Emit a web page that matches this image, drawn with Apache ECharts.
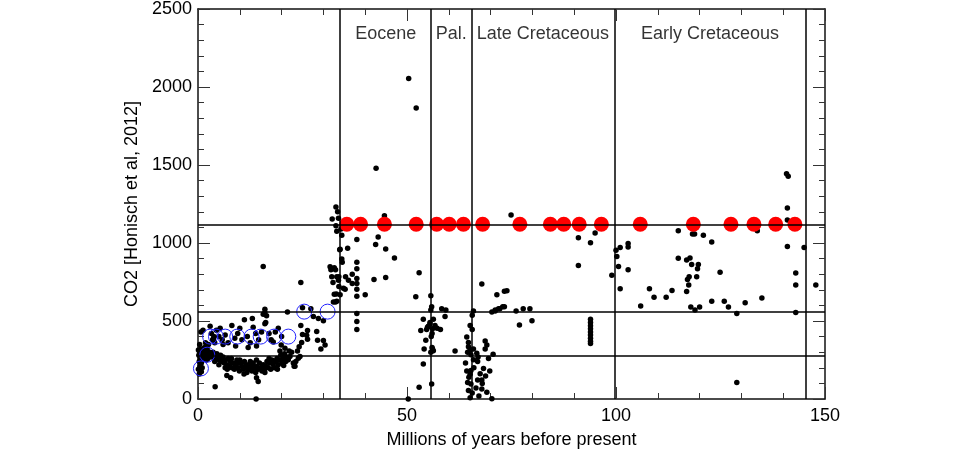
<!DOCTYPE html>
<html>
<head>
<meta charset="utf-8">
<script src="https://cdn.jsdelivr.net/npm/echarts@6/dist/echarts.min.js"></script>
<style>html,body{margin:0;padding:0;background:#fff}#c{width:960px;height:454px}</style>
</head>
<body>
<div id="c"></div>
<script>
// ---- data (Myr before present, CO2 ppm) ----
const xTickValues = [0, 50, 100, 150];
const yTickValues = [0, 500, 1000, 1500, 2000, 2500];

const proxyPoints = [
  // Pleistocene / Pliocene
  [0.1,190],[0.2,280],[0.3,240],[0.4,300],[0.5,210],[0.6,260],[0.7,320],[0.8,230],[0.9,280],[1.0,250],
  [1.1,300],[1.2,270],[1.3,310],[1.5,290],[1.6,330],[1.8,270],[2.0,300],[2.2,320],[2.4,260],[2.6,280],
  [0.7,430],[1.2,440],[2.9,466],[0.3,160],[0.8,175],[0.1,314],[1.5,325],[2.0,250],[1.0,200],
  [0.4,350],[1.8,360],[2.5,350],[2.8,300],
  // Miocene upper scatter
  [3.2,420],[3.5,380],[3.8,400],[4.0,360],[4.4,440],[5.0,400],[5.3,454],[5.8,380],[6.5,410],[7.2,360],
  [8.1,471],[8.8,390],[9.5,420],[10.0,454],[10.5,380],[11.1,508],[11.8,400],[12.5,360],[13.0,516],[13.2,460],
  [13.8,420],[14.5,380],[15.2,430],[15.6,544],[16.0,575],[16.2,491],[16.4,533],[16.0,554],[16.0,483],
  [17.0,420],[17.5,380],[18.0,366],[19.2,454],[19.6,308],[19.9,346],[20.8,325],[21.4,558],[21.8,308],[15.6,850],
  [3.7,387],[6.0,350],[9.0,340],[12.0,330],[14.0,340],[18.5,430],[20.0,400],
  // Miocene lower band
  [3.0,290],[3.3,270],[3.6,300],[3.9,280],[4.2,260],[4.5,290],[4.8,270],[5.1,250],[5.4,280],[5.7,240],
  [6.0,270],[6.3,230],[6.6,250],[6.9,220],[7.2,260],[7.5,210],[7.8,240],[8.1,200],[8.4,230],[8.7,190],
  [9.0,220],[9.3,250],[9.6,200],[9.9,180],[10.2,230],[10.5,210],[10.8,190],[11.1,240],[11.4,200],[11.7,170],
  [12.0,220],[12.3,190],[12.6,210],[12.9,180],[13.2,230],[13.5,200],[13.8,170],[14.1,210],[14.4,190],[14.7,230],
  [15.0,200],[15.3,180],[15.6,220],[15.9,190],[16.2,210],[16.5,240],[16.8,200],[17.1,230],[17.4,190],[17.7,250],
  [18.0,220],[18.3,200],[18.6,240],[18.9,260],[19.2,220],[19.5,250],[19.8,280],[20.1,230],[20.4,260],[20.7,290],
  [21.0,240],[21.3,270],[21.6,252],[22.0,272],[22.4,300],[22.8,230],[23.0,210],[23.2,210],[23.4,241],
  [8.0,260],[10.0,250],[11.0,160],[12.5,240],[14.0,250],[16.0,170],[17.0,260],[19.0,190],[5.0,220],[7.0,190],
  [9.5,230],[11.5,215],[13.0,205],[15.5,205],[18.0,245],[20.5,215],[6.5,200],[4.0,240],
  [6.9,150],[7.8,137],[14.0,137],[14.4,112],[4.1,79],[13.9,0],
  // Oligocene
  [23.8,308],[24.0,262],[24.2,335],[24.4,272],[24.6,471],[24.8,362],[25.0,413],[25.0,585],[26.0,408],[26.2,439],
  [26.2,383],[27.0,579],[27.6,529],[28.4,433],[28.6,377],[28.8,516],[29.4,321],[30.0,375],[30.0,502],[30.4,346],
  [24.6,746],[31.6,847],[31.8,829],[32.0,783],[32.3,746],[32.6,671],[32.4,621],
  // Eocene
  [33.0,1231],[32.1,1154],[33.6,1158],[33.2,1075],[34.4,1050],[33.9,956],[34.4,898],[32.6,841],[32.9,829],[33.2,783],
  [33.6,762],[33.1,673],[34.0,669],[32.9,621],[33.7,721],[34.5,877],[34.8,710],[34.0,960],[35.8,966],[38.0,1023],
  [38.0,877],[38.0,835],[33.7,783],[35.3,783],[36.0,762],[36.9,800],[36.9,741],[38.0,773],[38.0,741],[35.2,704],
  [38.0,704],[38.0,658],[40.0,669],[33.2,627],[38.0,548],[38.0,496],[38.0,446],[43.1,1038],[42.5,991],[44.9,962],
  [47.0,904],[44.6,1175],[42.1,766],[44.9,779],[52.9,810],[52.1,656],[50.3,0],[50.4,2054],[52.2,1866],[42.6,1479],
  [33.4,1200],[33.0,1110],[34.2,1090],
  // Paleocene
  [55.7,662],[55.9,591],[55.7,570],[58.3,579],[59.3,571],[59.1,529],[53.9,512],[56.3,512],[55.5,481],[55.1,466],
  [56.7,471],[56.1,450],[57.2,454],[58.0,446],[54.7,446],[53.3,439],[54.5,377],[54.1,321],[56.1,321],[55.7,300],
  [56.3,310],[61.5,308],[53.9,225],[55.9,96],[52.9,75],[54.9,460],[55.5,490],[56.0,420],[56.0,330],[55.8,400],
  // Late Cretaceous
  [67.9,737],[71.5,669],[73.3,690],[65.9,564],[65.6,537],[71.1,564],[72.2,579],[73.3,591],[65.1,471],[65.6,446],
  [64.3,398],[64.7,362],[64.7,335],[65.1,314],[65.9,321],[65.3,283],[66.7,294],[68.7,371],[69.1,346],[68.7,321],
  [70.6,287],[65.9,252],[66.9,241],[64.3,179],[65.3,183],[65.1,158],[67.5,162],[68.3,196],[68.8,148],[67.9,121],
  [66.9,121],[64.5,106],[65.3,96],[64.7,54],[65.6,38],[67.9,64],[69.1,44],[65.1,8],[70.3,2],[74.9,1179],
  [64.0,230],[66.0,200],[67.0,270],[69.5,260],[68.0,100],[66.5,70],[64.8,140],[67.2,20],[69.8,180],[64.5,300],
  [70.3,558],[71.1,571],[71.9,579],[72.9,591],[73.9,694],[76.1,564],[77.8,579],[79.4,579],[76.9,475],[79.9,502],
  [91.0,1033],[93.9,1002],[95.0,1064],[91.0,856],
  [93.9,512],[93.9,490],[93.9,470],[93.9,450],[93.9,430],[93.9,410],[93.9,390],[93.9,370],[93.9,356],
  [99.0,794],
  // Early Cretaceous
  [100.0,954],[100.2,913],[101.0,971],[102.9,996],[102.9,975],[100.6,850],[102.9,829],[101.0,706],[105.9,596],
  [108.0,706],[109.1,652],[112.0,652],[113.4,696],[114.9,1079],[114.9,902],[116.9,891],[117.7,904],[118.1,862],
  [119.7,862],[119.5,835],[119.3,783],[117.5,783],[117.1,766],[117.4,731],[116.9,689],[117.9,589],[118.9,571],
  [120.0,589],[118.3,1058],[118.8,1058],[120.9,1050],[122.9,1006],[124.9,812],[122.9,627],[125.9,627],[126.9,589],
  [128.9,548],[130.9,617],[134.9,648],[128.9,106],[133.8,1079],[141.0,1225],[141.0,1148],[141.0,977],[145.0,971],
  [143.0,808],[143.0,731],[143.0,554],[147.8,731],[140.8,1444],[141.2,1428]
];

const modelAges = [35.6,38.9,44.6,52.2,57.1,60.1,63.5,68.1,77.0,84.3,87.5,91.2,96.5,105.8,118.5,127.5,133.0,138.2,142.8];
const modelCO2 = 1120;

const iceCoreAges = [0.7,2.2,2.9,4.3,6.5,9.4,12.8,15.0,18.2,21.6,25.4,31.0];
const iceCoreCO2  = [196,284,400,400,400,400,400,400,400,400,560,560];

const boundaryAges = [33.9,55.8,65.5,99.6,145.5];
const co2Levels = [280,560,1120];
const periodNames = ['Eocene','Pal.','Late Cretaceous','Early Cretaceous'];
const periodCenters = [44.9,60.6,82.5,122.5];

// ---- chart ----
const FONT = 'Liberation Sans, Arial, Helvetica, sans-serif';
const labelY = 2340;
const chart = echarts.init(document.getElementById('c'), null, {renderer:'canvas'});

function xAx(pos, show) {
  return {
    type:'value', min:0, max:150, interval:50, position:pos,
    axisLine:{show:true, onZero:false, lineStyle:{color:'#111', width:1.5}},
    axisTick:{show:true, inside:true, length:12, lineStyle:{color:'#333', width:1}},
    minorTick:{show:true, splitNumber:5, length:6, lineStyle:{color:'#333', width:1}},
    axisLabel:{show:show, fontSize:18, color:'#000', margin:8, fontFamily:FONT, formatter:v => String(v)},
    splitLine:{show:false}, minorSplitLine:{show:false},
    name: show ? 'Millions of years before present' : '',
    nameLocation:'middle', nameGap:32,
    nameTextStyle:{fontSize:18, color:'#000', fontFamily:FONT}
  };
}
function yAx(pos, show) {
  return {
    type:'value', min:0, max:2500, interval:500, position:pos,
    axisLine:{show:true, onZero:false, lineStyle:{color:'#111', width:1.5}},
    axisTick:{show:true, inside:true, length:12, lineStyle:{color:'#333', width:1}},
    minorTick:{show:true, splitNumber:5, length:6, lineStyle:{color:'#333', width:1}},
    axisLabel:{show:show, fontSize:18, color:'#000', margin:6, fontFamily:FONT, formatter:v => String(v)},
    splitLine:{show:false}, minorSplitLine:{show:false},
    name: show ? 'CO2 [Honisch et al, 2012]' : '',
    nameLocation:'middle', nameGap:57,
    nameTextStyle:{fontSize:18, color:'#000', fontFamily:FONT}
  };
}

const lineData = [];
boundaryAges.forEach(a => lineData.push([{coord:[a,0]},{coord:[a,2500]}]));
co2Levels.forEach(v => lineData.push([{coord:[0,v]},{coord:[150,v]}]));

chart.setOption({
  animation:false,
  backgroundColor:'#ffffff',
  grid:{left:198, right:135, top:5, bottom:49, containLabel:false},
  xAxis:[xAx('bottom', true), xAx('top', false)],
  yAxis:[yAx('left', true), yAx('right', false)],
  series:[
    {
      type:'scatter', data:[], z:1, silent:true,
      markLine:{silent:true, symbol:['none','none'], label:{show:false},
        lineStyle:{color:'#000', width:1.5, type:'solid'}, data:lineData, animation:false}
    },
    {
      type:'scatter', z:2, symbol:'circle', symbolSize:5.5,
      itemStyle:{color:'#000', opacity:1}, data:proxyPoints, silent:true
    },
    {
      type:'scatter', z:3, symbol:'circle', symbolSize:15,
      itemStyle:{color:'#ff0000', opacity:1}, data:modelAges.map(a => [a, modelCO2]), silent:true
    },
    {
      type:'scatter', z:4, symbol:'circle', symbolSize:15,
      itemStyle:{color:'rgba(0,0,0,0)', borderColor:'#2424ff', borderWidth:1, opacity:1},
      data:iceCoreAges.map((a,i) => [a, iceCoreCO2[i]]), silent:true
    },
    {
      type:'scatter', z:5, symbol:'circle', symbolSize:1, silent:true,
      itemStyle:{color:'rgba(0,0,0,0)'},
      data:periodCenters.map((a,i) => ({value:[a, labelY], name:periodNames[i]})),
      label:{show:true, position:'inside', formatter:p => p.name,
        fontSize:18, color:'#000', fontFamily:FONT}
    }
  ]
});
</script>
</body>
</html>
